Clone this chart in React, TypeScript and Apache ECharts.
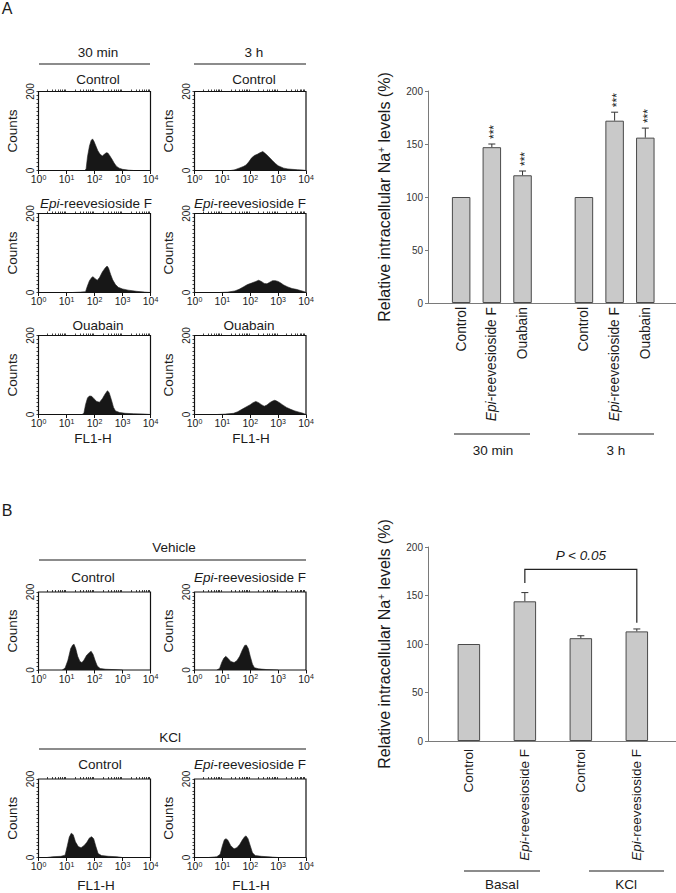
import React, { useEffect, useRef } from 'react';
import * as echarts from 'echarts';

const FONT = '"Liberation Sans", Arial, Helvetica, sans-serif';
const INK = '#1a1a1a';

// ---------- Flow-cytometry histograms: [log10(FL1-H), counts] ----------
const decadeLabels = [0, 1, 2, 3, 4];
const countLabels = [0, 200];

const a30Control: [number, number][] = [[1.65,0],[1.7,4],[1.75,35],[1.82,62],[1.88,76],[1.93,80],[1.98,74],[2.05,62],[2.12,50],[2.2,41],[2.28,37],[2.35,41],[2.42,45],[2.48,44],[2.55,37],[2.62,29],[2.7,19],[2.78,11],[2.88,6],[3.0,3],[3.2,1],[3.4,0]];
const a3hControl: [number, number][] = [[1.3,0],[1.45,2],[1.6,6],[1.75,10],[1.85,14],[1.95,22],[2.05,32],[2.15,38],[2.25,41],[2.35,45],[2.45,48],[2.52,44],[2.6,39],[2.7,32],[2.8,25],[2.9,18],[3.0,12],[3.1,9],[3.2,6],[3.35,4],[3.5,3],[3.7,2],[3.9,1],[4.0,0]];
const a30Epi: [number, number][] = [[1.2,0],[1.5,1],[1.68,2],[1.74,15],[1.82,30],[1.9,38],[1.95,40],[2.02,35],[2.1,31],[2.18,38],[2.28,52],[2.38,62],[2.45,67],[2.5,62],[2.58,45],[2.65,32],[2.75,20],[2.85,13],[3.0,9],[3.2,6],[3.5,3],[3.8,1],[4.0,0]];
const a3hEpi: [number, number][] = [[0.9,0],[1.2,1],[1.45,4],[1.6,8],[1.75,14],[1.9,20],[2.05,24],[2.2,28],[2.3,31],[2.4,28],[2.5,23],[2.6,22],[2.7,26],[2.8,30],[2.9,30],[3.0,28],[3.1,24],[3.2,19],[3.35,14],[3.5,10],[3.65,8],[3.8,5],[3.95,2],[4.0,0]];
const a30Ouabain: [number, number][] = [[1.55,0],[1.62,3],[1.68,25],[1.75,42],[1.82,47],[1.9,46],[1.98,40],[2.08,33],[2.18,31],[2.28,40],[2.38,52],[2.46,60],[2.52,56],[2.6,38],[2.68,18],[2.75,9],[2.9,5],[3.1,3],[3.4,2],[3.8,1],[4.0,0]];
const a3hOuabain: [number, number][] = [[0.8,0],[1.1,1],[1.4,3],[1.55,7],[1.7,13],[1.85,19],[2.0,25],[2.1,30],[2.2,33],[2.3,30],[2.4,25],[2.5,21],[2.6,24],[2.7,30],[2.8,34],[2.88,36],[2.95,34],[3.05,30],[3.15,25],[3.3,18],[3.45,13],[3.6,9],[3.75,6],[3.9,3],[4.0,0]];
const bVehControl: [number, number][] = [[0.85,0],[0.95,5],[1.05,25],[1.15,55],[1.22,64],[1.27,66],[1.33,55],[1.4,35],[1.48,22],[1.55,19],[1.62,25],[1.72,38],[1.82,45],[1.88,48],[1.95,40],[2.02,25],[2.1,10],[2.2,4],[2.4,2],[2.7,1],[3.0,0]];
const bVehEpi: [number, number][] = [[0.8,0],[0.9,4],[0.98,20],[1.05,30],[1.12,35],[1.2,30],[1.3,22],[1.42,19],[1.52,24],[1.62,35],[1.72,52],[1.8,63],[1.86,64],[1.93,55],[2.0,35],[2.08,15],[2.15,6],[2.3,3],[2.6,1],[3.0,0]];
const bKclControl: [number, number][] = [[0.3,0],[0.5,2],[0.8,3],[0.95,6],[1.03,30],[1.1,52],[1.17,62],[1.24,58],[1.32,40],[1.42,28],[1.52,25],[1.62,30],[1.72,38],[1.82,50],[1.9,53],[1.97,48],[2.05,28],[2.13,10],[2.25,5],[2.5,3],[2.8,2],[3.0,0]];
const bKclEpi: [number, number][] = [[0.5,0],[0.8,2],[0.92,8],[1.0,30],[1.07,45],[1.13,48],[1.2,44],[1.3,30],[1.42,22],[1.52,25],[1.62,33],[1.72,45],[1.8,53],[1.85,55],[1.92,48],[2.0,30],[2.08,12],[2.18,5],[2.4,3],[2.8,1],[3.0,0]];

// ---------- Bar chart A ----------
const barACategories = ['Control', 'Epi-reevesioside F', 'Ouabain', 'Control', 'Epi-reevesioside F', 'Ouabain'];
const barAGroups = ['30 min', '3 h'];
const barAValues = [100, 147, 120.5, 100, 172, 156];
const barAErrors = [0, 3, 4, 0, 8, 9];
const barAStars = ['', '***', '***', '', '***', '***'];
const barATicks = [0, 50, 100, 150, 200];

// ---------- Bar chart B ----------
const barBCategories = ['Control', 'Epi-reevesioside F', 'Control', 'Epi-reevesioside F'];
const barBGroups = ['Basal', 'KCl'];
const barBValues = [100, 144, 106, 113];
const barBErrors = [0, 9, 2.5, 2.5];
const barBTicks = [0, 50, 100, 150, 200];
const bracketFrom = 1;
const bracketTo = 3;
const bracketTop = 177;
const bracketLeftEnd = 163;
const bracketRightEnd = 122;
const bracketLabel = 'P < 0.05';
const bracketLabelY = 191;

const NA_NAME = '{a|Relative intracellular Na}{s|+}{a| levels (%)}';

function catLabel(name: string) {
  if (name.startsWith('Epi')) return '{i|Epi}{n|' + name.slice(3) + '}';
  return '{n|' + name + '}';
}

function buildOption() {
  const grids: any[] = [];
  const xAxes: any[] = [];
  const yAxes: any[] = [];
  const series: any[] = [];
  const elements: any[] = [];

  const minorTicks: number[] = [];
  for (let d = 0; d < 4; d++) for (let k = 2; k < 10; k++) minorTicks.push(d + Math.log10(k));

  const addHist = (data: [number, number][], left: number, top: number, width: number, height: number) => {
    const gi = grids.length;
    grids.push({ left, top, width, height, show: true, borderColor: '#111', borderWidth: 1.2, backgroundColor: 'transparent' });
    const xi = xAxes.length;
    xAxes.push({
      type: 'value', gridIndex: gi, min: 0, max: 4, interval: 1,
      axisLine: { show: false, onZero: false }, splitLine: { show: false },
      axisTick: { show: true, length: 3.5, lineStyle: { color: '#111', width: 1 } },
      axisLabel: {
        margin: 3, customValues: decadeLabels,
        formatter: (v: number) => '{b|10}{s|' + v + '}',
        rich: {
          b: { fontSize: 10.5, fontFamily: FONT, color: INK },
          s: { fontSize: 7, fontFamily: FONT, color: INK, verticalAlign: 'top' },
        },
      },
    });
    xAxes.push({
      type: 'value', gridIndex: gi, min: 0, max: 4,
      axisLine: { show: false, onZero: false }, splitLine: { show: false },
      axisLabel: { show: false },
      axisTick: { show: true, length: 2, customValues: minorTicks, lineStyle: { color: '#111', width: 0.8 } },
    });
    const yi = yAxes.length;
    yAxes.push({
      type: 'value', gridIndex: gi, min: 0, max: 200, interval: 10,
      name: 'Counts', nameLocation: 'middle', nameGap: 19,
      nameTextStyle: { fontSize: 13.5, color: INK, fontFamily: FONT },
      axisLine: { show: false, onZero: false }, splitLine: { show: false },
      axisTick: { show: true, length: 2, lineStyle: { color: '#111', width: 0.8 } },
      axisLabel: { rotate: 90, margin: 3, fontSize: 10, color: INK, fontFamily: FONT, customValues: countLabels, showMinLabel: true, showMaxLabel: true },
    });
    series.push({
      type: 'line', xAxisIndex: xi, yAxisIndex: yi, data, symbol: 'none', silent: true,
      lineStyle: { width: 0.6, color: '#222' },
      areaStyle: { color: '#171717', opacity: 1 },
    });
  };

  // Panel A histograms
  const colL = 38.5, colR = 194.5, hw = 111.5;
  const rowsA = [91.5, 213.5, 335.5];
  addHist(a30Control, colL, rowsA[0], hw + 0.5, 79);
  addHist(a3hControl, colR, rowsA[0], hw, 79);
  addHist(a30Epi, colL, rowsA[1], hw + 0.5, 79);
  addHist(a3hEpi, colR, rowsA[1], hw, 79);
  addHist(a30Ouabain, colL, rowsA[2], hw + 0.5, 79);
  addHist(a3hOuabain, colR, rowsA[2], hw, 79);
  // Panel B histograms
  const rowsB = [592, 779];
  addHist(bVehControl, colL, rowsB[0], hw + 0.5, 78);
  addHist(bVehEpi, colR, rowsB[0], hw, 78);
  addHist(bKclControl, colL, rowsB[1], hw + 0.5, 78.5);
  addHist(bKclEpi, colR, rowsB[1], hw, 78.5);

  const labelRich = (fs: number) => ({
    i: { fontStyle: 'italic', fontSize: fs, fontFamily: FONT, color: INK },
    n: { fontSize: fs, fontFamily: FONT, color: INK },
  });
  const nameStyle = {
    fontSize: 16, color: INK, fontFamily: FONT,
    rich: {
      a: { fontSize: 16, fontFamily: FONT, color: INK },
      s: { fontSize: 10, fontFamily: FONT, color: INK, verticalAlign: 'top' },
    },
  };

  const errorRender = (stars: string[]) => (params: any, api: any) => {
    const x = api.value(0), v = api.value(1), e = api.value(2), idx = api.value(3);
    const p0 = api.coord([x, v]);
    const p1 = api.coord([x, v + e]);
    const children: any[] = [];
    if (e > 0) {
      const st = { stroke: '#333', lineWidth: 1 };
      children.push({ type: 'line', shape: { x1: p0[0], y1: p0[1], x2: p1[0], y2: p1[1] }, style: st });
      children.push({ type: 'line', shape: { x1: p1[0] - 3.5, y1: p1[1], x2: p1[0] + 3.5, y2: p1[1] }, style: st });
    }
    const s = stars[idx];
    if (s) {
      children.push({
        type: 'text', x: p1[0] + 2.5, y: p1[1] - 5, rotation: Math.PI / 2,
        style: { text: s, fontSize: 12, fontFamily: FONT, fill: '#222', align: 'left', verticalAlign: 'middle', textAlign: 'left', textVerticalAlign: 'middle' },
      });
    }
    return { type: 'group', children };
  };

  // ---------- Bar chart A ----------
  {
    const slots = barACategories.map((_, i) => i + (i >= 3 ? 1 : 0));
    const gi = grids.length;
    grids.push({ left: 428, top: 91, width: 248, height: 212 });
    const xi = xAxes.length;
    xAxes.push({
      type: 'value', gridIndex: gi, min: -1.08, max: 7.0,
      axisLine: { show: true, onZero: false, lineStyle: { color: '#7a7a7a', width: 1 } },
      axisTick: { show: false }, splitLine: { show: false },
      axisLabel: {
        customValues: slots, rotate: 90, margin: 4,
        formatter: (v: number) => catLabel(barACategories[slots.indexOf(v)] || ''),
        rich: labelRich(13.8),
      },
    });
    const yi = yAxes.length;
    yAxes.push({
      type: 'value', gridIndex: gi, min: 0, max: 200, interval: 50,
      name: NA_NAME, nameLocation: 'middle', nameGap: 36, nameTextStyle: nameStyle,
      axisLine: { show: true, onZero: false, lineStyle: { color: '#7a7a7a', width: 1 } },
      axisTick: { show: true, length: 3, lineStyle: { color: '#7a7a7a' } },
      splitLine: { show: false },
      axisLabel: { fontSize: 10, color: '#333', fontFamily: FONT, margin: 5, customValues: barATicks },
    });
    series.push({
      type: 'bar', xAxisIndex: xi, yAxisIndex: yi, barWidth: 18.5, silent: true,
      data: barAValues.map((v, i) => [slots[i], v]),
      itemStyle: { color: '#c9c9c9', borderColor: '#4a4a4a', borderWidth: 1 },
    });
    series.push({
      type: 'custom', xAxisIndex: xi, yAxisIndex: yi, silent: true, z: 5,
      encode: { x: 0, y: 1 },
      data: barAValues.map((v, i) => [slots[i], v, barAErrors[i], i]),
      renderItem: errorRender(barAStars),
    });
  }

  // ---------- Bar chart B ----------
  {
    const slots = barBCategories.map((_, i) => i);
    const gi = grids.length;
    grids.push({ left: 428, top: 547, width: 248, height: 194 });
    const xi = xAxes.length;
    xAxes.push({
      type: 'value', gridIndex: gi, min: -0.73, max: 3.7,
      axisLine: { show: true, onZero: false, lineStyle: { color: '#7a7a7a', width: 1 } },
      axisTick: { show: false }, splitLine: { show: false },
      axisLabel: {
        customValues: slots, rotate: 90, margin: 8,
        formatter: (v: number) => catLabel(barBCategories[slots.indexOf(v)] || ''),
        rich: labelRich(13.5),
      },
    });
    const yi = yAxes.length;
    yAxes.push({
      type: 'value', gridIndex: gi, min: 0, max: 200, interval: 50,
      name: NA_NAME, nameLocation: 'middle', nameGap: 36, nameTextStyle: nameStyle,
      axisLine: { show: true, onZero: false, lineStyle: { color: '#7a7a7a', width: 1 } },
      axisTick: { show: true, length: 3, lineStyle: { color: '#7a7a7a' } },
      splitLine: { show: false },
      axisLabel: { fontSize: 10, color: '#333', fontFamily: FONT, margin: 5, customValues: barBTicks },
    });
    series.push({
      type: 'bar', xAxisIndex: xi, yAxisIndex: yi, barWidth: 22.5, silent: true,
      data: barBValues.map((v, i) => [slots[i], v]),
      itemStyle: { color: '#c9c9c9', borderColor: '#4a4a4a', borderWidth: 1 },
    });
    series.push({
      type: 'custom', xAxisIndex: xi, yAxisIndex: yi, silent: true, z: 5,
      encode: { x: 0, y: 1 },
      data: barBValues.map((v, i) => [slots[i], v, barBErrors[i], i]),
      renderItem: errorRender(barBCategories.map(() => '')),
    });
    series.push({
      type: 'custom', xAxisIndex: xi, yAxisIndex: yi, silent: true, z: 6,
      encode: { x: [0, 1], y: [2, 3, 4] },
      data: [[bracketFrom, bracketTo, bracketTop, bracketLeftEnd, bracketRightEnd]],
      renderItem: (params: any, api: any) => {
        const x1 = api.value(0), x2 = api.value(1), yt = api.value(2), yl = api.value(3), yr = api.value(4);
        const pl = api.coord([x1, yl]);
        const ptl = api.coord([x1, yt]);
        const ptr = api.coord([x2, yt]);
        const pr = api.coord([x2, yr]);
        const pt = api.coord([(x1 + x2) / 2, bracketLabelY]);
        return {
          type: 'group',
          children: [
            { type: 'polyline', shape: { points: [pl, ptl, ptr, pr] }, style: { stroke: '#222', lineWidth: 1.2, fill: 'none' } },
            {
              type: 'text', x: pt[0], y: pt[1],
              style: { text: bracketLabel, fontSize: 13.5, fontStyle: 'italic', fontFamily: FONT, fill: INK, align: 'center', verticalAlign: 'middle', textAlign: 'center', textVerticalAlign: 'middle' },
            },
          ],
        };
      },
    });
  }

  // ---------- Annotation texts and lines ----------
  const txt = (text: string, x: number, y: number, fs = 13.5, extra: any = {}) => ({
    type: 'text', x, y, silent: true,
    style: {
      text, fontSize: fs, fontFamily: FONT, fill: INK,
      align: 'center', verticalAlign: 'middle', textAlign: 'center', textVerticalAlign: 'middle', ...extra,
    },
  });
  const epiTxt = (x: number, y: number, fs = 13.5) => txt('{i|Epi}{n|-reevesioside F}', x, y, fs, {
    rich: {
      i: { fontStyle: 'italic', fontSize: fs, fontFamily: FONT, fill: INK, color: INK },
      n: { fontSize: fs, fontFamily: FONT, fill: INK, color: INK },
    },
  });
  const ln = (x1: number, y1: number, x2: number, y2: number) => ({
    type: 'line', silent: true, shape: { x1, y1, x2, y2 }, style: { stroke: INK, lineWidth: 1.2 },
  });

  elements.push(txt('A', 7, 8, 16));
  elements.push(txt(barAGroups[0], 98, 52));
  elements.push(txt(barAGroups[1], 254, 52));
  elements.push(ln(39, 64, 150, 64), ln(194, 64, 306, 64));
  elements.push(txt('Control', 98, 79), txt('Control', 254, 79));
  elements.push(epiTxt(96, 203), epiTxt(250, 203));
  elements.push(txt('Ouabain', 98, 325), txt('Ouabain', 249, 325));
  elements.push(txt('FL1-H', 93, 438), txt('FL1-H', 251, 438));

  elements.push(ln(454, 434, 530, 434), ln(578, 434, 654, 434));
  elements.push(txt(barAGroups[0], 493, 450), txt(barAGroups[1], 616, 450));

  elements.push(txt('B', 7, 510, 16));
  elements.push(txt('Vehicle', 174, 547));
  elements.push(ln(39, 560, 306, 560));
  elements.push(txt('Control', 93, 577), epiTxt(250, 577));
  elements.push(txt('KCl', 170, 737));
  elements.push(ln(39, 749, 306, 749));
  elements.push(txt('Control', 100, 764), epiTxt(250, 764));
  elements.push(txt('FL1-H', 96, 885), txt('FL1-H', 251, 885));

  elements.push(ln(464, 871, 540, 871), ln(589, 871, 664, 871));
  elements.push(txt(barBGroups[0], 502, 884), txt(barBGroups[1], 626, 884));

  return {
    animation: false,
    backgroundColor: '#ffffff',
    textStyle: { fontFamily: FONT, color: INK },
    grid: grids,
    xAxis: xAxes,
    yAxis: yAxes,
    series,
    graphic: { elements },
  };
}

export default function App() {
  const ref = useRef<HTMLDivElement>(null);
  useEffect(() => {
    if (!ref.current) return;
    const chart = echarts.init(ref.current, null, { renderer: 'svg' });
    chart.setOption(buildOption() as any);
    return () => chart.dispose();
  }, []);
  return (
    <div
      ref={ref}
      style={{ position: 'absolute', left: 0, top: 0, width: 676, height: 893, background: '#fff' }}
    />
  );
}
